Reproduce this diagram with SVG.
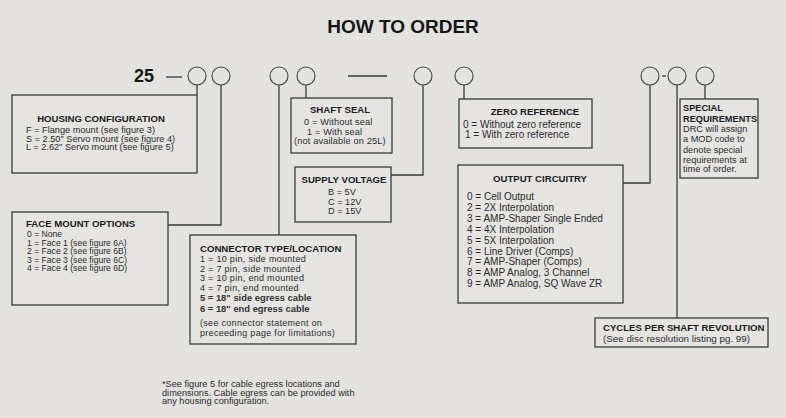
<svg xmlns="http://www.w3.org/2000/svg" width="786" height="418" viewBox="0 0 786 418">
<style>
.bg{fill:#e3e2df}
.box{fill:#e5e4e1;stroke:#3a3a3a;stroke-width:1.3}
.ln{fill:none;stroke:#3a3a3a;stroke-width:1.3}
.circ{fill:none;stroke:#444;stroke-width:1.1}
text{font-family:"Liberation Sans",Arial,sans-serif;fill:#2b2b2b}
.t{font-weight:bold;font-size:9.6px;fill:#1c1c1c}
.c{text-anchor:middle}
.s9{font-size:9px;letter-spacing:0.3px}
.s92{font-size:9.2px}
.ss{font-size:9.2px;letter-spacing:0.15px}
.s10{font-size:10px}
.s87{font-size:8.6px}
</style>
<rect class="bg" x="0" y="0" width="786" height="418"/>
<text x="403" y="33" class="c" style="font-weight:bold;font-size:19px;fill:#151515">HOW TO ORDER</text>
<g id="code">
<text x="134" y="82" style="font-weight:bold;font-size:18px;fill:#151515">25</text>
<line class="ln" x1="166" y1="77" x2="182" y2="77"/>
<line class="ln" x1="348" y1="76" x2="387" y2="76"/>
<line class="ln" x1="662" y1="76" x2="666" y2="76"/>
<circle class="circ" cx="197" cy="76" r="9"/>
<circle class="circ" cx="221" cy="76" r="9"/>
<circle class="circ" cx="279" cy="76" r="9"/>
<circle class="circ" cx="306" cy="76" r="9"/>
<circle class="circ" cx="423" cy="76" r="9"/>
<circle class="circ" cx="464" cy="76" r="9"/>
<circle class="circ" cx="650" cy="76" r="9"/>
<circle class="circ" cx="677" cy="76" r="9"/>
<circle class="circ" cx="705" cy="76" r="9"/>
</g>
<g id="connectors">
<polyline class="ln" points="197,85 197,95"/>
<polyline class="ln" points="221,85 221,225 168,225"/>
<polyline class="ln" points="279,85 279,235"/>
<polyline class="ln" points="306,85 306,98"/>
<polyline class="ln" points="423,85 423,175 391,175"/>
<polyline class="ln" points="464,85 464,99"/>
<polyline class="ln" points="650,85 650,183 623,183"/>
<polyline class="ln" points="677,85 677,318"/>
<polyline class="ln" points="705,85 705,99"/>
</g>
<g id="housing">
<rect class="box" x="12" y="95" width="185" height="78"/>
<text class="t" x="101" y="122" text-anchor="middle">HOUSING CONFIGURATION</text>
<text class="s92" x="26" y="133">F = Flange mount (see figure 3)</text>
<text class="s92" x="26" y="141.7">S = 2.50" Servo mount (see figure 4)</text>
<text class="s92" x="26" y="150.4">L = 2.62" Servo mount (see figure 5)</text>
</g>
<g id="face">
<rect class="box" x="12" y="212" width="156" height="93"/>
<text class="t" x="26" y="227">FACE MOUNT OPTIONS</text>
<text class="s87" x="27" y="237">0 = None</text>
<text class="s87" x="27" y="245.6">1 = Face 1 (see figure 6A)</text>
<text class="s87" x="27" y="254.2">2 = Face 2 (see figure 6B)</text>
<text class="s87" x="27" y="262.8">3 = Face 3 (see figure 6C)</text>
<text class="s87" x="27" y="271.4">4 = Face 4 (see figure 6D)</text>
</g>
<g id="connector">
<rect class="box" x="190" y="235" width="166" height="109"/>
<text class="t" x="200" y="252">CONNECTOR TYPE/LOCATION</text>
<text class="s9" x="200" y="262">1 = 10 pin, side mounted</text>
<text class="s9" x="200" y="271.5">2 = 7 pin, side mounted</text>
<text class="s9" x="200" y="281">3 = 10 pin, end mounted</text>
<text class="s9" x="200" y="290.5">4 = 7 pin, end mounted</text>
<text x="200" y="301" style="font-size:9.4px;font-weight:bold;fill:#333">5 = 18" side egress cable</text>
<text x="200" y="312" style="font-size:9.4px;font-weight:bold;fill:#333">6 = 18" end egress cable</text>
<text class="s9" x="200" y="326">(see connector statement on</text>
<text class="s9" x="200" y="335.5">preceeding page for limitations)</text>
</g>
<g id="shaft">
<rect class="box" x="291" y="98" width="101" height="55"/>
<text class="t c" x="340" y="113">SHAFT SEAL</text>
<text class="ss" x="304" y="125">0 = Without seal</text>
<text class="ss" x="307" y="134.5">1 = With seal</text>
<text class="ss" x="294" y="144">(not available on 25L)</text>
</g>
<g id="supply">
<rect class="box" x="295" y="167" width="96" height="55"/>
<text class="t c" x="344" y="183">SUPPLY VOLTAGE</text>
<text class="s92" x="328" y="195">B = 5V</text>
<text class="s92" x="328" y="204.5">C = 12V</text>
<text class="s92" x="328" y="214">D = 15V</text>
</g>
<g id="zero">
<rect class="box" x="459" y="99" width="133" height="49"/>
<text class="t c" x="535" y="115">ZERO REFERENCE</text>
<text class="s10" x="463" y="128">0 = Without zero reference</text>
<text class="s10" x="465" y="137.5">1 = With zero reference</text>
</g>
<g id="output">
<rect class="box" x="458" y="165" width="165" height="138"/>
<text class="t c" x="540" y="182">OUTPUT CIRCUITRY</text>
<text class="s10" x="467" y="200">0 = Cell Output</text>
<text class="s10" x="467" y="211">2 = 2X Interpolation</text>
<text class="s10" x="467" y="222">3 = AMP-Shaper Single Ended</text>
<text class="s10" x="467" y="233">4 = 4X Interpolation</text>
<text class="s10" x="467" y="243.5">5 = 5X Interpolation</text>
<text class="s10" x="467" y="254.5">6 = Line Driver (Comps)</text>
<text class="s10" x="467" y="265">7 = AMP-Shaper (Comps)</text>
<text class="s10" x="467" y="276">8 = AMP Analog, 3 Channel</text>
<text class="s10" x="467" y="287">9 = AMP Analog, SQ Wave ZR</text>
</g>
<g id="special">
<rect class="box" x="680" y="99" width="78" height="79"/>
<text class="t" x="683" y="111" style="font-size:9.2px">SPECIAL</text>
<text class="t" x="683" y="122" style="font-size:9.2px">REQUIREMENTS</text>
<text class="s92" x="683" y="132">DRC will assign</text>
<text class="s92" x="683" y="142">a MOD code to</text>
<text class="s92" x="683" y="152.5">denote special</text>
<text class="s92" x="683" y="162.5">requirements at</text>
<text class="s92" x="683" y="172">time of order.</text>
</g>
<g id="cycles">
<rect class="box" x="595" y="318" width="173" height="29"/>
<text class="t" x="603" y="331">CYCLES PER SHAFT REVOLUTION</text>
<text x="603" y="342" style="font-size:9.8px">(See disc resolution listing pg. 99)</text>
</g>
<g id="footnote">
<text class="s92" x="162" y="387">*See figure 5 for cable egress locations and</text>
<text class="s92" x="162" y="395.5">dimensions. Cable egress can be provided with</text>
<text class="s92" x="162" y="404">any housing configuration.</text>
</g>
</svg>
